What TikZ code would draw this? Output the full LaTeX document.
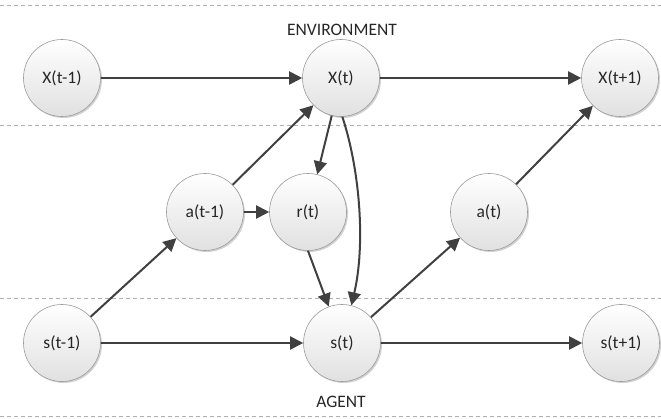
\documentclass[tikz,border=0pt]{standalone}
\usepackage{fontspec}
\setmainfont{Carlito}
\usetikzlibrary{arrows.meta,shadows}
\definecolor{edgec}{HTML}{404040}
\definecolor{rimc}{HTML}{9A9A9A}
\definecolor{dashc}{HTML}{B0B0B0}
\definecolor{txtc}{HTML}{262626}
\begin{document}
\begin{tikzpicture}[x=1pt,y=-1pt,
  state/.style={circle, minimum size=77pt, inner sep=0pt, draw=rimc, line width=0.6pt,
    top color=white, bottom color=black!12,
    drop shadow={shadow xshift=1.5pt, shadow yshift=-1.5pt, opacity=0.18, fill=black},
    text=txtc, font=\fontsize{17.5}{20}\selectfont},
  flow/.style={-{Triangle[length=13pt,width=13pt]}, draw=edgec, line width=2pt},
  sep/.style={draw=dashc, line width=0.8pt, dash pattern=on 4pt off 3pt},
  lbl/.style={font=\fontsize{17.5}{20}\selectfont, text=txtc}]
\useasboundingbox (0,0) rectangle (661,419);
% separators
\coordinate (d1a) at (0,5);   \coordinate (d1b) at (661,5);
\coordinate (d2a) at (0,125); \coordinate (d2b) at (661,125);
\coordinate (d3a) at (0,298); \coordinate (d3b) at (661,298);
\coordinate (d4a) at (0,416); \coordinate (d4b) at (661,416);
\draw[sep] (d1a) -- (d1b);
\draw[sep] (d2a) -- (d2b);
\draw[sep] (d3a) -- (d3b);
\draw[sep] (d4a) -- (d4b);
% labels
\node[lbl] (env) at (342,30) {ENVIRONMENT};
\node[lbl] (agent) at (341,402) {AGENT};
% nodes
\node[state] (xm) at (62,78)  {X(t-1)};
\node[state] (x0) at (341,78) {X(t)};
\node[state] (xp) at (620,78) {X(t+1)};
\node[state] (am) at (205,212) {a(t-1)};
\node[state] (r)  at (308,212) {r(t)};
\node[state] (a)  at (489,212) {a(t)};
\node[state] (sm) at (62,343)  {s(t-1)};
\node[state] (s0) at (342,343) {s(t)};
\node[state] (sp) at (621,343) {s(t+1)};
% connectors
\draw[flow] (xm) -- (x0);
\draw[flow] (x0) -- (xp);
\draw[flow] (sm) -- (s0);
\draw[flow] (s0) -- (sp);
\draw[flow] (sm) -- (am);
\draw[flow] (am) -- (x0);
\draw[flow] (am) -- (r);
\draw[flow] (x0) -- (r);
\draw[flow] (r.south) -- (s0.110);
\draw[flow] (x0.-88) .. controls +(18,55) and +(14,-60) .. (s0.76);
\draw[flow] (s0) -- (a);
\draw[flow] (a) -- (xp);
\end{tikzpicture}
\end{document}
